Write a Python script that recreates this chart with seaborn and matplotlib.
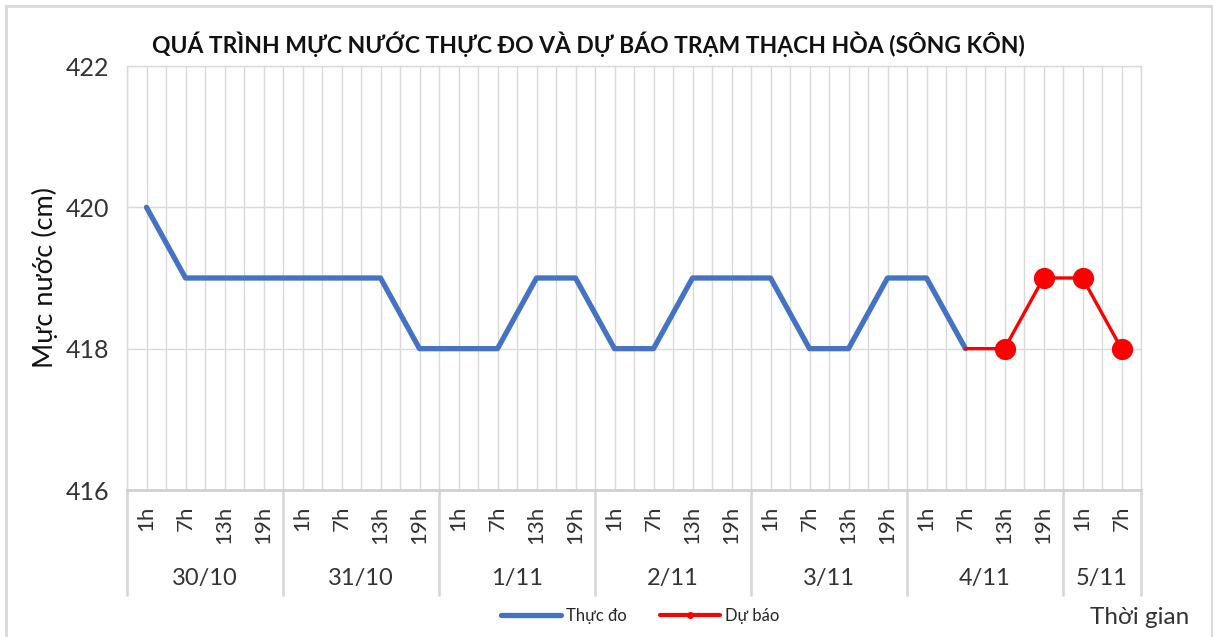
import numpy as np
import pandas as pd
import seaborn as sns
import matplotlib.pyplot as plt
from matplotlib.patches import Rectangle
from matplotlib.lines import Line2D

# hourly categories grouped by date
dates = ['30/10', '31/10', '1/11', '2/11', '3/11', '4/11', '5/11']
hours_per_date = [['1h', '7h', '13h', '19h']] * 6 + [['1h', '7h']]
hours = [h for grp in hours_per_date for h in grp]

# water level (cm)
observed = [420, 419, 419, 419, 419, 419, 419, 418, 418, 418, 419, 419,
            418, 418, 419, 419, 419, 418, 418, 419, 419, 418]
forecast = [418, 418, 419, 419, 418]
forecast_start = len(observed) - 1

sns.set_theme(style='white')
plt.rcParams['font.family'] = ['Lato', 'DejaVu Sans']

df_obs = pd.DataFrame({'x': np.arange(len(observed)), 'level': observed})
df_fc = pd.DataFrame({'x': np.arange(forecast_start, forecast_start + len(forecast)),
                      'level': forecast})

fig = plt.figure(figsize=(12.13, 6.37), dpi=100)
ax = fig.add_axes([127 / 1213, 1 - 490 / 637, 1014 / 1213, 424 / 637])

blue = '#4472C4'
red = '#FF0000'
sns.lineplot(data=df_obs, x='x', y='level', ax=ax, color=blue, linewidth=3.8,
             solid_capstyle='round', zorder=3)
sns.lineplot(data=df_fc, x='x', y='level', ax=ax, color=red, linewidth=2.4, zorder=4)
sns.scatterplot(data=df_fc.iloc[1:], x='x', y='level', ax=ax, color=red, s=200,
                edgecolor=red, zorder=5)

n = len(hours)
ax.set_xlim(-0.5, n - 0.5)
ax.set_ylim(416, 422)
ax.set_yticks([416, 418, 420, 422])
ax.tick_params(axis='y', length=0, pad=13, labelsize=18, labelcolor='#333333')

ax.set_xticks(range(n))
ax.set_xticklabels(hours, rotation=90, fontsize=16, color='#333333')
ax.set_xticks(np.arange(-0.5, n, 1.0), minor=True)
ax.tick_params(axis='x', which='both', length=0, pad=11)
ax.grid(True, which='both', color='#d9d9d9', linewidth=1)
ax.set_xlabel('')
ax.set_ylabel('Mực nước (cm)', fontsize=19.5, labelpad=5, color='#111111')

for side in ['left', 'right', 'top']:
    ax.spines[side].set_color('#d9d9d9')
    ax.spines[side].set_linewidth(1)
ax.spines['bottom'].set_color('#d0d0d0')
ax.spines['bottom'].set_linewidth(2)

# date group labels and separators below the axis
trans = ax.get_xaxis_transform()
pos = 0
bounds = [-0.5]
for d, grp in zip(dates, hours_per_date):
    center = pos + (len(grp) - 1) / 2
    ax.text(center, -0.208, d, transform=trans, ha='center', va='center',
            fontsize=17, color='#333333')
    pos += len(grp)
    bounds.append(pos - 0.5)
for b in bounds:
    ax.plot([b, b], [0, -0.248], transform=trans, color='#d9d9d9', linewidth=2,
            clip_on=False)

fig.text(588 / 1213, 1 - 44 / 637, 'QUÁ TRÌNH MỰC NƯỚC THỰC ĐO VÀ DỰ BÁO TRẠM THẠCH HÒA (SÔNG KÔN)',
         ha='center', va='center', fontsize=16.5, fontweight='bold', color='#111111')
fig.text(1140 / 1213, 1 - 617 / 637, 'Thời gian', ha='center', va='center',
         fontsize=17.5, color='#333333')

handles = [Line2D([0], [0], color=blue, linewidth=3.8, solid_capstyle='round'),
           Line2D([0], [0], color=red, linewidth=3, marker='o', markersize=4)]
fig.legend(handles, ['Thực đo', 'Dự báo'], loc='center', ncol=2,
           bbox_to_anchor=(640 / 1213, 1 - 616 / 637), frameon=False,
           fontsize=12, handlelength=3.6, columnspacing=2.0, handletextpad=0.3)

fig.add_artist(Rectangle((6 / 1213, -0.01), 1206 / 1213, 1 - 6 / 637 + 0.01,
                         transform=fig.transFigure, fill=False,
                         edgecolor='#d9d9d9', linewidth=2))

fig.savefig('out.png', dpi=100, facecolor='white')
